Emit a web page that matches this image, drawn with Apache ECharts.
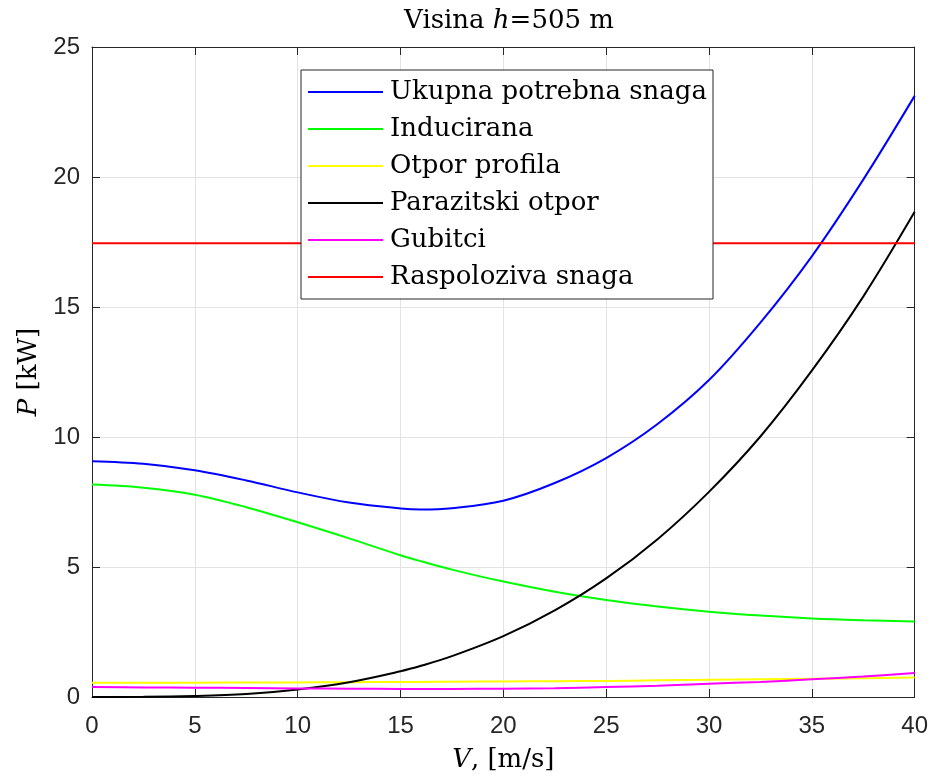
<!DOCTYPE html>
<html>
<head>
<meta charset="utf-8">
<script src="https://cdn.jsdelivr.net/npm/echarts@6/dist/echarts.min.js"></script>
<style>html,body{margin:0;padding:0;background:#fff}#c{width:931px;height:778px}</style>
</head>
<body>
<div id="c"></div>
<script>
const speeds = [0, 2.5, 5, 7.5, 10, 12.5, 15, 16, 17.5, 20, 22.5, 25, 27.5, 30, 32.5, 35, 37.5, 40];
const ukupna = [9.07, 8.97, 8.72, 8.33, 7.87, 7.48, 7.25, 7.21, 7.26, 7.55, 8.23, 9.19, 10.5, 12.19, 14.4, 16.95, 19.9, 23.12];
const inducirana = [8.17, 8.05, 7.78, 7.3, 6.72, 6.1, 5.45, 5.22, 4.9, 4.44, 4.05, 3.73, 3.48, 3.28, 3.13, 3.02, 2.95, 2.9];
const otporProfila = [0.55, 0.55, 0.55, 0.56, 0.56, 0.57, 0.58, 0.58, 0.59, 0.6, 0.61, 0.62, 0.64, 0.66, 0.68, 0.7, 0.72, 0.75];
const parazitski = [0, 0.005, 0.04, 0.12, 0.29, 0.57, 0.99, 1.2, 1.57, 2.34, 3.33, 4.56, 6.07, 7.89, 10.02, 12.55, 15.4, 18.66];
const gubitci = [0.38, 0.37, 0.36, 0.35, 0.33, 0.32, 0.31, 0.31, 0.31, 0.32, 0.34, 0.38, 0.43, 0.51, 0.58, 0.68, 0.79, 0.92];
const raspolozivaSpeeds = [0, 40];
const raspoloziva = [17.45, 17.45];
const seriesNames = ['Ukupna potrebna snaga', 'Inducirana', 'Otpor profila', 'Parazitski otpor', 'Gubitci', 'Raspoloziva snaga'];
const seriesColors = ['#0000ff', '#00ff00', '#ffff00', '#000000', '#ff00ff', '#ff0000'];

const pair = (xs, ys) => xs.map((x, i) => [x, ys[i]]);
const seriesData = [
  pair(speeds, ukupna), pair(speeds, inducirana), pair(speeds, otporProfila),
  pair(speeds, parazitski), pair(speeds, gubitci), pair(raspolozivaSpeeds, raspoloziva)
];

const serif = 'DejaVu Serif';
const sans = 'Liberation Sans';
const axisCol = '#262626';

const chart = echarts.init(document.getElementById('c'), null, {renderer: 'canvas'});
const baseAxis = {
  type: 'value',
  axisLine: {show: true, onZero: false, lineStyle: {color: axisCol, width: 1}},
  axisTick: {show: true, inside: true, length: 8, lineStyle: {color: axisCol}},
  splitLine: {show: false}
};
const richText = {
  n: {fontFamily: serif, fontSize: 26, fontWeight: 'normal', color: '#000'},
  i: {fontFamily: serif, fontSize: 26, fontWeight: 'normal', fontStyle: 'italic', color: '#000'}
};
chart.setOption({
  animation: false,
  backgroundColor: '#fff',
  title: {
    text: '{n|Visina }{i|h}{n|=505 m}',
    left: 504, textAlign: 'center', top: 3,
    textStyle: {fontWeight: 'normal', rich: richText}
  },
  grid: {left: 92, top: 47, right: 15, bottom: 78, containLabel: false},
  legend: {
    orient: 'vertical', left: 301, top: 70,
    padding: [7, 6, 7, 7], itemGap: 7, itemWidth: 75, itemHeight: 2,
    icon: 'rect',
    borderColor: axisCol, borderWidth: 1, backgroundColor: '#fff',
    data: seriesNames,
    textStyle: {fontFamily: serif, fontSize: 26, color: '#000', lineHeight: 30, padding: [0, 0, 0, 2]}
  },
  xAxis: [
    Object.assign({}, baseAxis, {
      min: 0, max: 40, interval: 5, position: 'bottom',
      splitLine: {show: true, lineStyle: {color: '#e3e3e3', width: 1}},
      axisLabel: {fontFamily: sans, fontSize: 24, color: axisCol, margin: 17},
      name: '{i|V}{n|, [m/s]}', nameLocation: 'middle', nameGap: 50,
      nameTextStyle: {rich: richText}
    }),
    Object.assign({}, baseAxis, {
      min: 0, max: 40, interval: 5, position: 'top', axisLabel: {show: false}
    })
  ],
  yAxis: [
    Object.assign({}, baseAxis, {
      min: 0, max: 25, interval: 5, position: 'left',
      splitLine: {show: true, lineStyle: {color: '#e3e3e3', width: 1}},
      axisLabel: {fontFamily: sans, fontSize: 24, color: axisCol, margin: 12},
      name: '{i|P}{n| [kW]}', nameLocation: 'middle', nameGap: 41, nameRotate: 90,
      nameTextStyle: {rich: richText}
    }),
    Object.assign({}, baseAxis, {
      min: 0, max: 25, interval: 5, position: 'right', axisLabel: {show: false}
    })
  ],
  series: seriesNames.map((name, i) => ({
    name: name,
    type: 'line',
    xAxisIndex: 0, yAxisIndex: 0,
    data: seriesData[i],
    smooth: 0.35,
    symbol: 'none',
    color: seriesColors[i],
    lineStyle: {color: seriesColors[i], width: 2},
    z: 2 + i * 0.01
  }))
});
</script>
</body>
</html>
